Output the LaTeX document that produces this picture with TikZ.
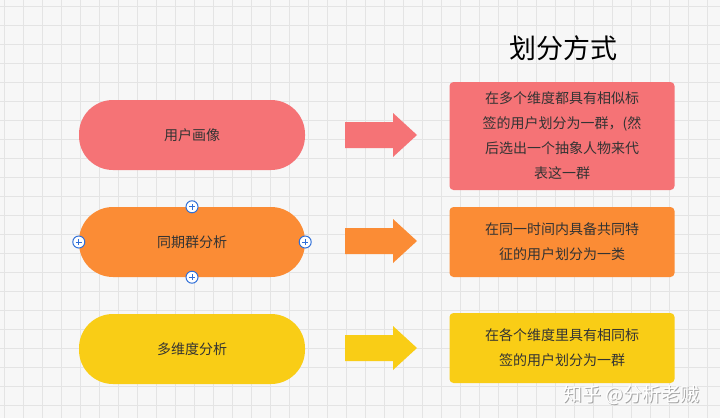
\documentclass[tikz,border=0pt]{standalone}
\usepackage{fontspec}
\newfontfamily\cjk{Noto Sans CJK SC}
\definecolor{cred}{HTML}{F57376}
\definecolor{corange}{HTML}{FB8C35}
\definecolor{cyellow}{HTML}{F9CD16}
\definecolor{ctext}{HTML}{333333}
\definecolor{cgrid}{HTML}{E4E4E4}
\definecolor{chandle}{HTML}{2F6FD8}
\tikzset{
  pill/.style={rounded corners=34pt,minimum width=226pt,minimum height=70pt,inner sep=0pt,font=\cjk\fontsize{14}{16}\selectfont,text=ctext},
  descbox/.style={rounded corners=4pt,minimum width=225pt,inner sep=0pt,align=center,font=\cjk\fontsize{14}{25}\selectfont,text=ctext},
  arrowbox/.style={minimum width=70pt,minimum height=44pt,inner sep=0pt},
  handle/.style={circle,draw=chandle,fill=white,line width=1pt,minimum size=12pt,inner sep=0pt,
    path picture={\draw[chandle,line width=1pt] ([xshift=-3pt]path picture bounding box.center)--([xshift=3pt]path picture bounding box.center) ([yshift=-3pt]path picture bounding box.center)--([yshift=3pt]path picture bounding box.center);}}
}
\begin{document}
\begin{tikzpicture}[x=1pt,y=-1pt]
\fill[white!97!black] (0,0) rectangle (720,418);
\useasboundingbox (0,0) rectangle (720,418);
\foreach \i in {0,...,38} {\draw[cgrid,line width=0.5pt] (\i*19+4,0)--(\i*19+4,418);}
\foreach \j in {0,...,22} {\draw[cgrid,line width=0.5pt] (0,\j*19+6)--(720,\j*19+6);}
\node[font=\cjk\fontsize{27}{30}\selectfont,text=black] (title) at (563,48) {划分方式};
% row 1
\node[pill,fill=cred] (p1) at (192,135) {用户画像};
\node[arrowbox] (a1) at (381,135) {};
\node[descbox,fill=cred,minimum height=108pt] (b1) at (562,136) {在多个维度都具有相似标\\签的用户划分为一群，(然\\后选出一个抽象人物来代\\表这一群};
% row 2
\node[pill,fill=corange] (p2) at (192,242) {同期群分析};
\node[arrowbox] (a2) at (381,241) {};
\node[descbox,fill=corange,minimum height=70pt] (b2) at (562,242) {在同一时间内具备共同特\\征的用户划分为一类};
\node[handle] (h1) at (p2.north) {};
\node[handle] (h2) at (p2.south) {};
\node[handle] (h3) at (p2.west) {};
\node[handle] (h4) at (p2.east) {};
% row 3
\node[pill,fill=cyellow] (p3) at (192,349) {多维度分析};
\node[arrowbox] (a3) at (381,348) {};
\node[descbox,fill=cyellow,minimum height=70pt] (b3) at (562,348) {在各个维度里具有相同标\\签的用户划分为一群};
\foreach \a/\c in {a1/cred,a2/corange,a3/cyellow}{
  \fill[\c,shift={(\a.center)}] (-36,-13)--(12,-13)--(12,-22)--(36,0)--(12,22)--(12,13)--(-36,13)--cycle;
}
% watermark
\node[font=\cjk\fontsize{19}{22}\selectfont,text=black!35,anchor=east] at (703.8,395.8) {知乎 @分析老贼};
\node[font=\cjk\fontsize{19}{22}\selectfont,text=white,anchor=east] (wm) at (703,395) {知乎 @分析老贼};
\end{tikzpicture}
\end{document}
